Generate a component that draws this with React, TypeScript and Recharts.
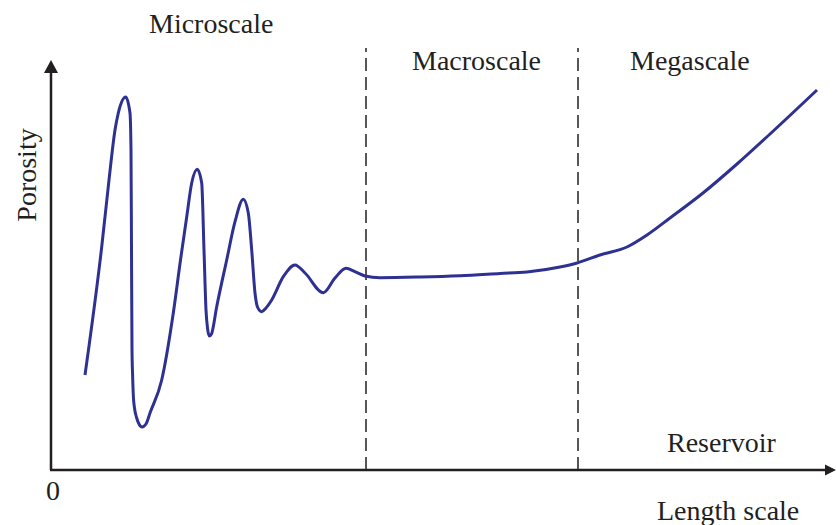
import { Line, LineChart, ReferenceDot, ReferenceLine, XAxis, YAxis } from "recharts";

// curve, x = length scale, y = porosity (arbitrary units)
const lengthScale = [
  35, 51.7, 59, 65, 68.3, 75.7, 80, 81, 81.5, 82, 82.6, 83.4, 84.5, 86.7, 89,
  92, 96, 100, 111.7, 123.3, 130.5, 136.7, 141.7, 147.3, 151.7, 154, 156, 157.5,
  159.3, 161.5, 166.7, 176.7, 185, 193.3, 198.3, 201.7, 205, 207.5, 211.7, 216,
  221.7, 233.3, 245, 255, 273.3, 285, 296, 305, 315, 330, 370, 410, 450, 477,
  510, 527, 550, 577, 597, 620, 653, 687, 720, 767,
];
const porosity = [
  95, 223, 290, 340, 357, 373, 357, 320, 220, 120, 95, 73, 62, 52, 46, 43, 46,
  57, 90, 157, 210, 253, 287, 300.7, 287, 220, 160, 142, 134, 136, 163.3, 210,
  248.3, 270.7, 257, 220, 177, 163, 158.3, 162, 170, 193.3, 205, 197, 177.3,
  192, 201.7, 198.3, 194, 192.3, 193, 194.3, 196.5, 198, 203, 207, 215, 223,
  235, 252, 277, 306, 336, 380,
];

const zoneBoundaries = [316, 528];
const zoneLabels = [
  { text: "Microscale", x: 149, y: 33 },
  { text: "Macroscale", x: 412, y: 70 },
  { text: "Megascale", x: 630, y: 70 },
  { text: "Reservoir", x: 667, y: 452 },
];

const datos = lengthScale.map((l, i) => ({ l, p: porosity[i] }));

const ink = "#231f20";
const fuente = "'Liberation Serif', 'Times New Roman', serif";

export default function App() {
  return (
    <div style={{ position: "absolute", left: 0, top: 0, background: "#fff" }}>
      <LineChart
        width={836}
        height={525}
        data={datos}
        margin={{ top: 48, right: 0, bottom: 55, left: 50 }}
      >
        <XAxis dataKey="l" type="number" domain={[0, 786]} hide />
        <YAxis type="number" domain={[0, 422]} hide />
        {zoneBoundaries.map((b) => (
          <ReferenceLine
            key={b}
            x={b}
            stroke={ink}
            strokeWidth={1.5}
            strokeDasharray="13 6"
          />
        ))}
        <ReferenceLine
          segment={[
            { x: 1, y: 0 },
            { x: 1, y: 400 },
          ]}
          stroke={ink}
          strokeWidth={2.5}
        />
        <ReferenceLine
          segment={[
            { x: 0, y: 0 },
            { x: 778, y: 0 },
          ]}
          stroke={ink}
          strokeWidth={2.5}
        />
        <ReferenceDot
          x={1}
          y={410}
          r={0}
          ifOverflow="visible"
          shape={({ cx, cy }: any) => (
            <polygon
              points={`${cx},${cy} ${cx - 7},${cy + 13} ${cx + 7},${cy + 13}`}
              fill={ink}
            />
          )}
        />
        <ReferenceDot
          x={786}
          y={0}
          r={0}
          ifOverflow="visible"
          shape={({ cx, cy }: any) => (
            <polygon
              points={`${cx},${cy} ${cx - 11},${cy - 5.5} ${cx - 11},${cy + 5.5}`}
              fill={ink}
            />
          )}
        />
        <Line
          dataKey="p"
          type="monotone"
          stroke="#2e3192"
          strokeWidth={3}
          dot={false}
          isAnimationActive={false}
        />
        {zoneLabels.map((z) => (
          <text
            key={z.text}
            x={z.x}
            y={z.y}
            fontFamily={fuente}
            fontSize={28}
            fill={ink}
          >
            {z.text}
          </text>
        ))}
        <text x={46} y={500} fontFamily={fuente} fontSize={28} fill={ink}>
          0
        </text>
        <text x={657} y={520} fontFamily={fuente} fontSize={28} fill={ink}>
          Length scale
        </text>
        <text
          x={36}
          y={175}
          transform="rotate(-90 36 175)"
          textAnchor="middle"
          fontFamily={fuente}
          fontSize={28}
          fill={ink}
        >
          Porosity
        </text>
      </LineChart>
    </div>
  );
}
